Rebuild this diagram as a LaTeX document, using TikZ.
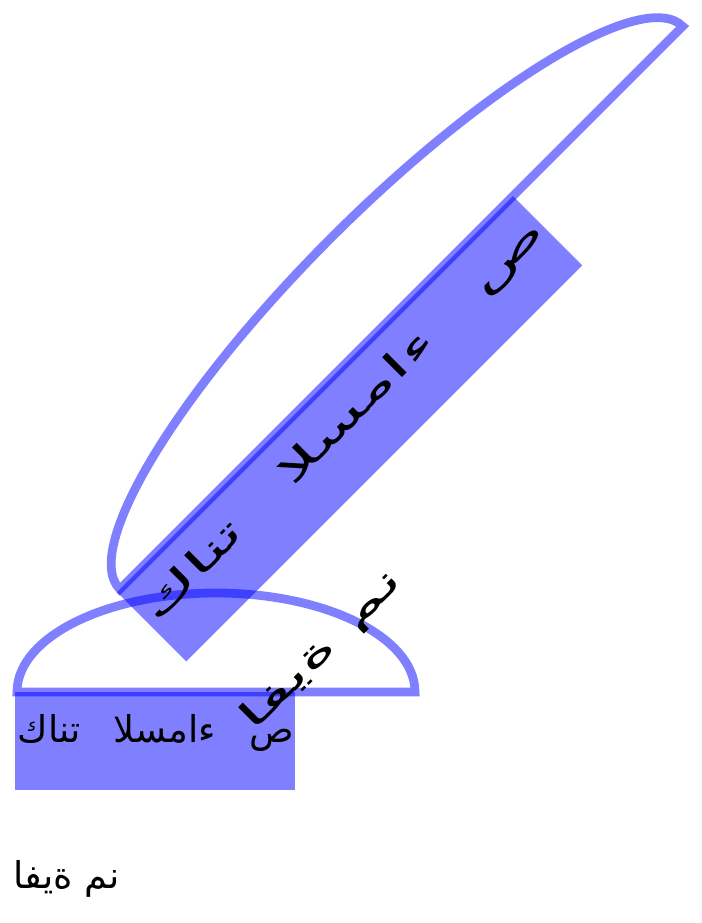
\documentclass[tikz,border=0pt]{standalone}
\usepackage{fontspec}
\newfontfamily\arabicfont[Script=Arabic]{DejaVu Sans}
\TeXXeTstate=1
\usepackage{tikz}
\usetikzlibrary{calc,positioning}
\tikzset{%
  cover/.style={fill=blue, fill opacity=0.5},
  dome/.style={draw=blue, draw opacity=0.5, line width=2.5pt},
  script line/.style={anchor=base west, inner sep=0pt, font=\arabicfont\fontsize{10.5pt}{13pt}\selectfont},
  skyscene/.pic={code={
    \fill[cover] (0,0) rectangle (2.8,-0.98);
    \draw[dome] (0.02,0) arc[start angle=180, end angle=0, x radius=1.99, y radius=0.99] -- cycle;

    % first line fills the box, the rest runs below it
    \node[script line] (-first) at (0.02,-0.5)
      {\hbox to 2.76cm{\beginR ص\hfill ءامسلا\hfill تناك\endR}};
    \node[script line] (-second) at (-0.02,-1.96) {\beginR نم ةيفا\endR};
  }}
}

\begin{document}
\begin{tikzpicture}

 \useasboundingbox (0,0) rectangle (7.02,-9.23);

 \coordinate (flatpos) at (0.15,-6.92);
 \coordinate (tiltpos) at (1.17,-5.92);

 \pic (flat) at (flatpos) {skyscene};

 \begin{scope}[shift={(tiltpos)}, rotate=45, xscale=2, transform shape]
  \pic (tilted) {skyscene};
 \end{scope}

\end{tikzpicture}
\end{document}
